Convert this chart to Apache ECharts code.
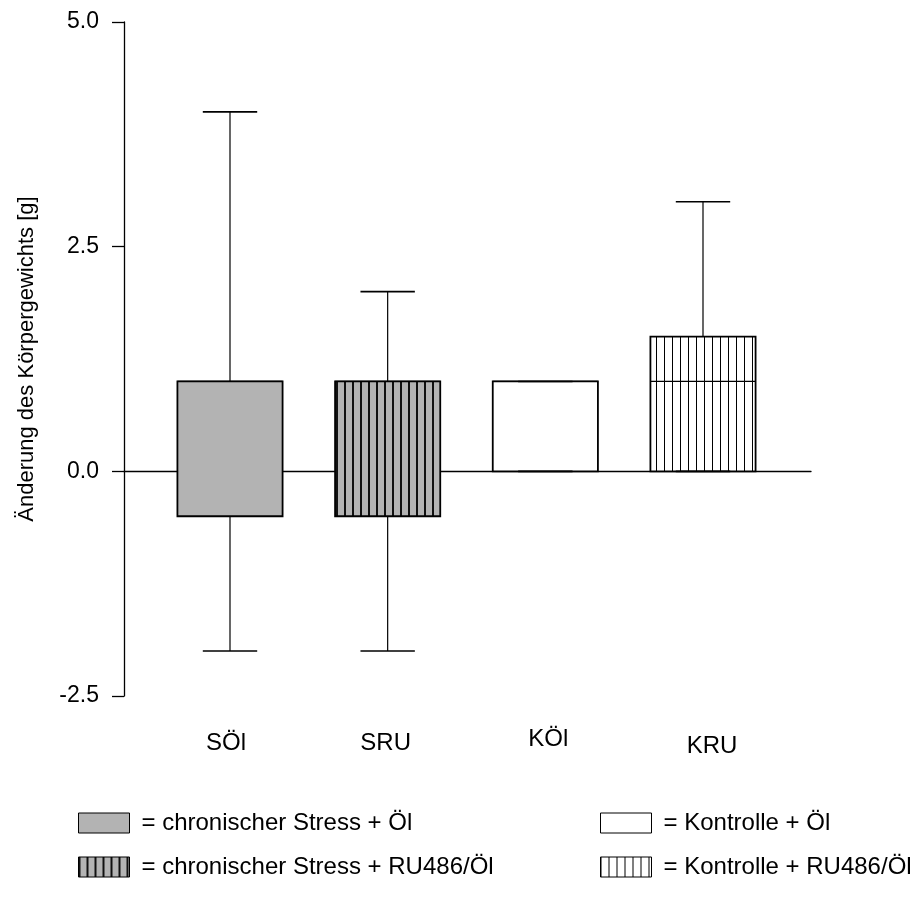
<!DOCTYPE html>
<html><head><meta charset="utf-8">
<script src="https://cdn.jsdelivr.net/npm/echarts@6/dist/echarts.min.js"></script>
<style>html,body{margin:0;padding:0;background:#fff}#c{width:916px;height:904px}</style>
</head><body><div id="c"></div>
<script>
// ---- data ----
const categories = ['SÖl', 'SRU', 'KÖl', 'KRU'];
const legendNames = ['= chronischer Stress + Öl', '= chronischer Stress + RU486/Öl', '= Kontrolle + Öl', '= Kontrolle + RU486/Öl'];
const whiskerLow = [-2, -2, 0, 0];
const quartile1 = [-0.5, -0.5, 0, 0];
const medians = [1, 1, 1, 1];
const quartile3 = [1, 1, 1, 1.5];
const whiskerHigh = [4, 2, 1, 3];
const yAxisTitle = 'Änderung des Körpergewichts [g]';

// ---- styling ----
const FONT = "'Liberation Sans', Arial, sans-serif";
function stripes(bg, fg, w) {
  const c = document.createElement('canvas');
  c.width = 8; c.height = 8;
  const g = c.getContext('2d');
  g.fillStyle = bg; g.fillRect(0, 0, 8, 8);
  g.fillStyle = fg; g.fillRect(0, 0, w, 8);
  return c;
}
const fills = [
  '#b3b3b3',
  { image: stripes('#b3b3b3', '#111111', 2), repeat: 'repeat' },
  '#ffffff',
  { image: stripes('#ffffff', '#000000', 1), repeat: 'repeat' }
];
const BOX_FRAC = 0.667, CAP_FRAC = 0.345;
// per-label nudges of the category labels as placed in the original figure
const labelPad = [[4, 8, 0, 0], [4, 4, 0, 0], [0, 0, 0, 6], [7, 0, 0, 18]];
const richLabels = {};
labelPad.forEach((p, i) => { richLabels['c' + i] = { padding: p, fontSize: 24, color: '#000', fontFamily: FONT }; });

function renderItem(params, api) {
  const x = api.value(0);
  const unit = api.size([1, 0])[0];
  const bw = unit * BOX_FRAC, cw = unit * CAP_FRAC;
  const P = d => api.coord([x, api.value(d)]);
  const lo = P(1), q1 = P(2), md = P(3), q3 = P(4), hi = P(5);
  const cx = lo[0];
  const fill = fills[params.seriesIndex];
  const ln = { stroke: '#000', lineWidth: 1.2 };
  const cap = { stroke: '#000', lineWidth: 1.6 };
  return {
    type: 'group', children: [
      { type: 'line', shape: { x1: cx, y1: lo[1], x2: cx, y2: q1[1] }, style: ln },
      { type: 'line', shape: { x1: cx, y1: q3[1], x2: cx, y2: hi[1] }, style: ln },
      { type: 'rect', shape: { x: cx - bw / 2, y: q3[1], width: bw, height: q1[1] - q3[1] }, style: { fill: fill, stroke: '#000', lineWidth: 1.8 } },
      { type: 'line', shape: { x1: cx - bw / 2, y1: md[1], x2: cx + bw / 2, y2: md[1] }, style: ln },
      { type: 'line', shape: { x1: cx - cw / 2, y1: lo[1], x2: cx + cw / 2, y2: lo[1] }, style: cap },
      { type: 'line', shape: { x1: cx - cw / 2, y1: hi[1], x2: cx + cw / 2, y2: hi[1] }, style: cap }
    ]
  };
}

const chart = echarts.init(document.getElementById('c'), null, { renderer: 'canvas' });
const legendBase = {
  orient: 'vertical', itemWidth: 51, itemHeight: 20, itemGap: 20, icon: 'rect',
  selectedMode: false, padding: 0,
  itemStyle: { borderColor: '#000', borderWidth: 1 },
  textStyle: { fontSize: 24, color: '#000', fontFamily: FONT, padding: [4, 0, 0, 7] }
};
chart.setOption({
  animation: false,
  backgroundColor: '#fff',
  grid: { left: 124, top: 22, bottom: 208, right: 105, containLabel: false },
  xAxis: [
    {
      type: 'value', min: 0.3277, max: 4.685, position: 'bottom',
      axisLine: { show: true, onZero: true, lineStyle: { color: '#000', width: 1.3 } },
      axisTick: { show: false }, axisLabel: { show: false }, splitLine: { show: false }
    },
    {
      type: 'value', min: 0.3277, max: 4.685, position: 'bottom',
      axisLine: { show: false, onZero: false }, axisTick: { show: false }, splitLine: { show: false },
      axisLabel: {
        show: true, customValues: [1, 2, 3, 4], margin: 31,
        formatter: v => { const i = Math.round(v) - 1; return categories[i] ? '{c' + i + '|' + categories[i] + '}' : ''; },
        rich: richLabels,
        fontSize: 24, color: '#000', fontFamily: FONT
      }
    }
  ],
  yAxis: {
    type: 'value', min: -2.5, max: 5, interval: 2.5,
    name: yAxisTitle, nameLocation: 'middle', nameGap: 86, nameRotate: 90,
    nameTextStyle: { fontSize: 22, color: '#000', fontFamily: FONT },
    axisLine: { show: true, lineStyle: { color: '#000', width: 1.3 } },
    axisTick: { show: true, length: 12, lineStyle: { color: '#000', width: 1.3 } },
    axisLabel: { margin: 25, fontSize: 23, color: '#000', fontFamily: FONT, formatter: v => v.toFixed(1) },
    splitLine: { show: false }
  },
  legend: [
    Object.assign({}, legendBase, { data: [legendNames[0], legendNames[1]], left: 78, top: 811 }),
    Object.assign({}, legendBase, { data: [legendNames[2], legendNames[3]], left: 600, top: 811 })
  ],
  series: categories.map((c, i) => ({
    type: 'custom', name: legendNames[i], xAxisIndex: 0, yAxisIndex: 0,
    itemStyle: { color: fills[i], borderColor: '#000', borderWidth: 1 },
    encode: { x: 0, y: [1, 2, 3, 4, 5] },
    data: [[i + 1, whiskerLow[i], quartile1[i], medians[i], quartile3[i], whiskerHigh[i]]],
    renderItem: renderItem
  }))
});
</script>
</body></html>
